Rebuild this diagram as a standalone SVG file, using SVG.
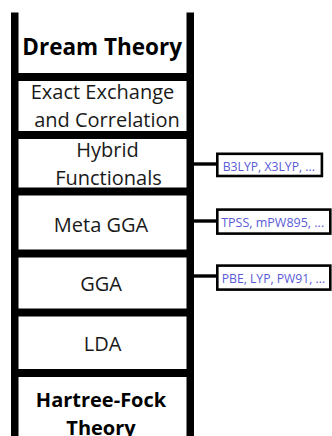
<svg xmlns="http://www.w3.org/2000/svg" width="332" height="436" viewBox="0 0 332 436">
  <style>
    .bar { fill: #000000; }
    .step { font-family: "Open Sans", "Noto Sans", sans-serif; font-size: 20px; fill: #1a1a1a; text-anchor: middle; }
    .step.strong { font-weight: bold; fill: #000000; }
    .step.title { font-size: 22.5px; }
    .tag rect { fill: #ffffff; stroke: #000000; stroke-width: 2.6; }
    .tag text { font-family: "Open Sans", "Noto Sans", sans-serif; font-size: 13.5px; fill: #5a5ad6; }
    .link { stroke: #000000; stroke-width: 3.4; fill: none; }
  </style>
  <rect width="332" height="436" fill="#ffffff"/>

  <!-- ladder frame: rails and rungs -->
  <g id="ladder">
    <rect class="bar" x="11" y="12.5" width="7.5" height="424"/>
    <rect class="bar" x="186.5" y="12.5" width="7.5" height="424"/>
    <rect class="bar" x="11" y="73" width="183" height="8"/>
    <rect class="bar" x="11" y="131" width="183" height="8"/>
    <rect class="bar" x="11" y="187.5" width="183" height="8"/>
    <rect class="bar" x="11" y="249.5" width="183" height="8"/>
    <rect class="bar" x="11" y="308.5" width="183" height="8"/>
    <rect class="bar" x="11" y="369" width="183" height="8"/>
  </g>

  <!-- ladder steps -->
  <g id="dream-theory">
    <text class="step strong title" x="102.2" y="54.5">Dream Theory</text>
  </g>
  <g id="exact-xc">
    <text class="step" x="102.5" y="99.3">Exact Exchange</text>
    <text class="step" x="107" y="126.7">and Correlation</text>
  </g>
  <g id="hybrid">
    <text class="step" x="107.5" y="156.7">Hybrid</text>
    <text class="step" x="108.5" y="185">Functionals</text>
  </g>
  <g id="meta-gga">
    <text class="step" x="101" y="231.7">Meta GGA</text>
  </g>
  <g id="gga">
    <text class="step" x="101" y="290.7">GGA</text>
  </g>
  <g id="lda">
    <text class="step" x="102.5" y="350.7">LDA</text>
  </g>
  <g id="hartree-fock">
    <text class="step strong" x="101" y="407">Hartree-Fock</text>
    <text class="step strong" x="101" y="435">Theory</text>
  </g>

  <!-- connectors from the ladder to example functionals -->
  <g id="connectors">
    <line class="link" x1="194" y1="164" x2="217.5" y2="164"/>
    <line class="link" x1="194" y1="221" x2="217.5" y2="221"/>
    <line class="link" x1="194" y1="276" x2="217.5" y2="276"/>
  </g>

  <g id="hybrid-examples" class="tag">
    <rect x="217.3" y="153.8" width="104.6" height="22.2"/>
    <text x="222.7" y="170.5" textLength="92.3" lengthAdjust="spacingAndGlyphs">B3LYP, X3LYP, ...</text>
  </g>
  <g id="meta-gga-examples" class="tag">
    <rect x="217.3" y="209.6" width="113" height="24"/>
    <text x="221.2" y="226.5" textLength="103" lengthAdjust="spacingAndGlyphs">TPSS, mPW895, ...</text>
  </g>
  <g id="gga-examples" class="tag">
    <rect x="217.3" y="265.6" width="113" height="24"/>
    <text x="221.7" y="282.5" textLength="103.5" lengthAdjust="spacingAndGlyphs">PBE, LYP, PW91, ...</text>
  </g>
</svg>
